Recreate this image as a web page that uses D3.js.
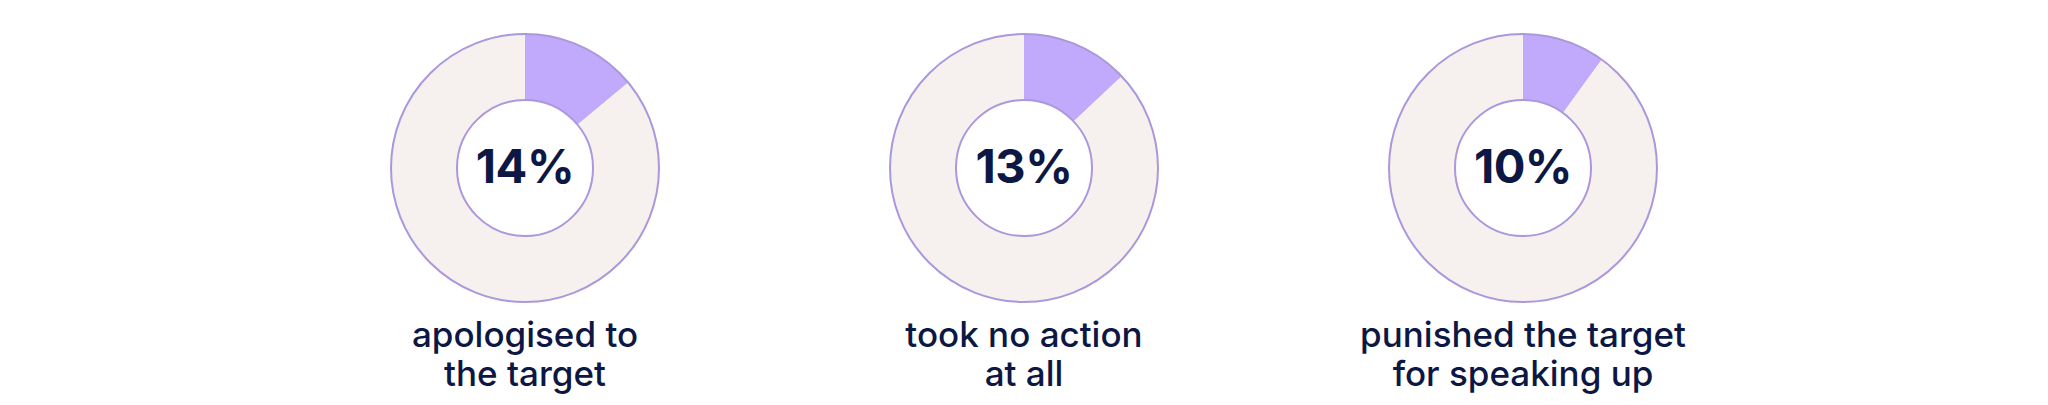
<!DOCTYPE html>
<html>
<head>
<meta charset="utf-8">
<script src="https://cdn.jsdelivr.net/npm/d3@7"></script>
<style>
  html, body { margin: 0; padding: 0; background: #fff; }
  svg { display: block; }
</style>
</head>
<body>
<div id="donutchart"></div>
<script>
const width = 2048
const height = 405
const outerRadius = 134
const innerRadius = 68
const centerY = 168

const categories = ['apologised', 'no-action', 'punished']
const values = [14, 13, 10]
const labelLines = [
  ['apologised to', 'the target'],
  ['took no action', 'at all'],
  ['punished the target', 'for speaking up']
]

const sliceColor = '#c1a9fb'
const restColor = '#f6f0ee'
const strokeColor = '#ab98dc'
const textColor = '#0c1744'

const x = d3.scalePoint()
  .domain(categories)
  .range([525, 1523])

const svg = d3.select('#donutchart')
  .append('svg')
  .attr('width', width)
  .attr('height', height)

const arc = d3.arc()
  .innerRadius(innerRadius)
  .outerRadius(outerRadius)

const pie = d3.pie()
  .sort(null)
  .value((d) => d)

const donutG = svg.selectAll('g.donut')
  .data(categories)
  .enter()
  .append('g')
  .attr('class', 'donut')
  .attr('transform', (d) => `translate(${x(d)}, ${centerY})`)

donutG.selectAll('path')
  .data((d, i) => pie([values[i], 100 - values[i]]))
  .enter()
  .append('path')
  .attr('d', arc)
  .attr('fill', (d, i) => i === 0 ? sliceColor : restColor)

// outlines of the ring
donutG.selectAll('circle')
  .data([outerRadius, innerRadius])
  .enter()
  .append('circle')
  .attr('r', (d) => d)
  .attr('fill', 'none')
  .attr('stroke', strokeColor)
  .attr('stroke-width', 2)

donutG.append('text')
  .attr('text-anchor', 'middle')
  .attr('y', 15)
  .attr('font-family', 'Inter, sans-serif')
  .attr('font-weight', 650)
  .attr('font-size', 47)
  .attr('letter-spacing', -0.5)
  .attr('fill', textColor)
  .text((d, i) => values[i] + '%')

donutG.append('text')
  .attr('text-anchor', 'middle')
  .attr('font-family', 'Inter, sans-serif')
  .attr('font-weight', 550)
  .attr('font-size', 35)
  .attr('letter-spacing', 0)
  .attr('fill', textColor)
  .selectAll('tspan')
  .data((d, i) => labelLines[i])
  .enter()
  .append('tspan')
  .attr('x', 0)
  .attr('y', (d, i) => 179 + i * 39)
  .text((d) => d)
</script>
</body>
</html>
